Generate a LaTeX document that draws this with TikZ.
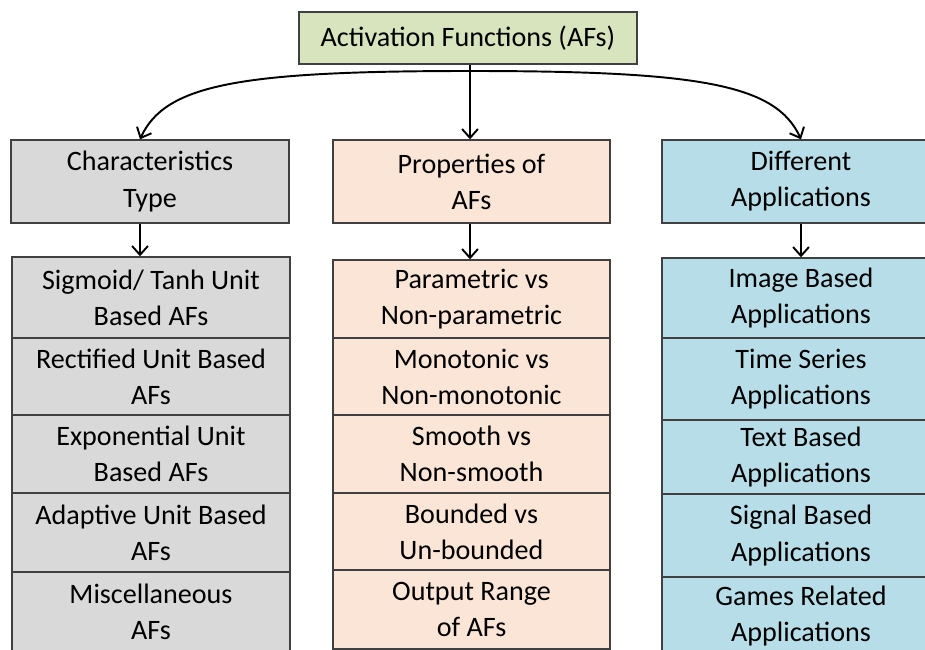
\documentclass[tikz,border=0pt]{standalone}
\usepackage{fontspec}
\setmainfont{Carlito}
\usetikzlibrary{arrows.meta}

\definecolor{afgreen}{HTML}{D7E4BD}
\definecolor{afgrey}{HTML}{D9D9D9}
\definecolor{afpeach}{HTML}{FBE5D6}
\definecolor{afblue}{HTML}{B7DEE8}
\definecolor{afline}{HTML}{404040}

\tikzset{
    box/.style={draw=afline, line width=0.8pt, align=center, inner sep=2pt,
        font=\fontsize{16}{20.5}\selectfont},
    arr/.style={-{Straight Barb[length=5pt,width=9pt]}, line width=1.1pt, black},
}

\begin{document}
\begin{tikzpicture}[x=0.02cm, y=-0.02cm]
    \useasboundingbox (0,0) rectangle (925,649);

    % Define the positions of the nodes
    \node[box, fill=afgreen, minimum width=6.76cm, minimum height=1.04cm] (af) at (468,38) {Activation Functions (AFs)};

    \node[box, fill=afgrey, minimum width=5.56cm, minimum height=1.66cm] (char) at (150,181.5) {Characteristics\\Type};
    \node[box, fill=afpeach, minimum width=5.54cm, minimum height=1.66cm] (prop) at (471.5,181.5) {Properties of\\AFs};
    \node[box, fill=afblue, minimum width=5.56cm, minimum height=1.66cm] (app) at (801,181.5) {Different\\Applications};

    \coordinate (split) at (470,71);

    % Rows below each category
    \foreach \txt/\yc/\h [count=\i] in {
        {Sigmoid/ Tanh Unit\\Based AFs}/297.5/81,
        {Rectified Unit Based\\AFs}/376.5/77,
        {Exponential Unit\\Based AFs}/454/78,
        {Adaptive Unit Based\\AFs}/532.5/79,
        {Miscellaneous\\AFs}/611.5/79}
        \node[box, fill=afgrey, minimum width=5.56cm, minimum height=\h*0.02cm] (char\i) at (151,\yc) {\txt};

    \foreach \txt/\yc/\h [count=\i] in {
        {Parametric vs\\Non-parametric}/299/78,
        {Monotonic vs\\Non-monotonic}/376.5/77,
        {Smooth vs\\Non-smooth}/454/78,
        {Bounded vs\\Un-bounded}/531.5/77,
        {Output Range\\of AFs}/609.5/79}
        \node[box, fill=afpeach, minimum width=5.54cm, minimum height=\h*0.02cm] (prop\i) at (471.5,\yc) {\txt};

    \foreach \txt/\yc/\h [count=\i] in {
        {Image Based\\Applications}/298/80,
        {Time Series\\Applications}/379/82,
        {Text Based\\Applications}/457/74,
        {Signal Based\\Applications}/535.5/83,
        {Games Related\\Applications}/616/78}
        \node[box, fill=afblue, minimum width=5.56cm, minimum height=\h*0.02cm] (app\i) at (801,\yc) {\txt};

    % Draw the edges
    \draw[arr] (af.south -| split) -- (prop.north -| split);
    \draw[arr] (split) .. controls +(-230,0) and +(25,-55) .. (char.north -| 140,0);
    \draw[arr] (split) .. controls +(230,0) and +(-25,-55) .. (app.north);

    \draw[arr] (char.south -| 140,0) -- (char1.north -| 140,0);
    \draw[arr] (prop.south -| split) -- (prop1.north -| split);
    \draw[arr] (app.south) -- (app1.north);
\end{tikzpicture}
\end{document}
